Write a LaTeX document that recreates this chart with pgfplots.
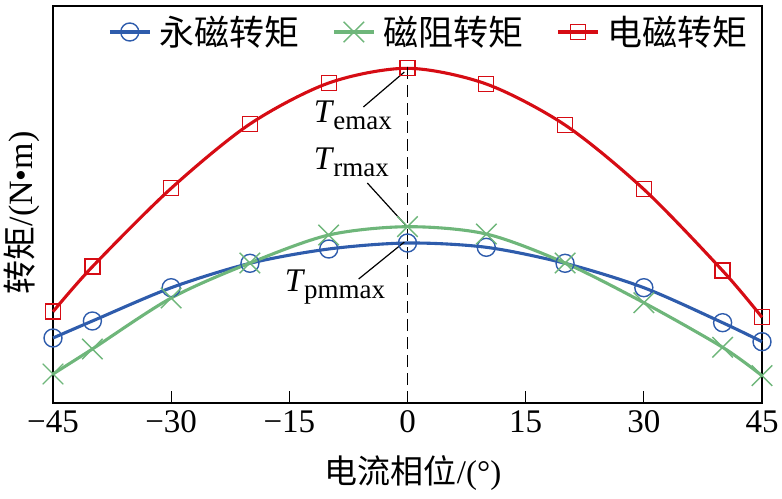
\documentclass[border=0pt]{standalone}
\usepackage{fontspec}
\setmainfont{Liberation Serif}
\newfontfamily\cjk{Noto Sans CJK SC}
\usepackage{pgfplots}
\pgfplotsset{compat=1.18}
\definecolor{cblue}{RGB}{46,92,172}
\definecolor{cgreen}{RGB}{110,182,122}
\definecolor{cred}{RGB}{214,12,20}
\newcommand{\Tl}[1]{{\fontsize{33bp}{36bp}\selectfont\itshape T}\kern1bp\raisebox{-7bp}{\fontsize{27bp}{30bp}\selectfont #1}}
\begin{document}
\begin{tikzpicture}
\path[use as bounding box] (-53bp,-96bp) rectangle (729bp,403bp);
\begin{axis}[
  at={(0bp,0bp)}, anchor=south west,
  scale only axis, width=709bp, height=397bp,
  xmin=-45, xmax=45, ymin=0, ymax=397,
  clip=false,
  xtick={-45,-30,-15,0,15,30,45},
  xticklabels={−45,−30,−15,0,15,30,45},
  ytick=\empty,
  xtick pos=bottom,
  tick align=inside,
  major tick length=12bp,
  axis line style={line width=1.3bp, black},
  every tick/.style={line width=1.3bp, black},
  xticklabel style={font=\fontsize{33bp}{36bp}\selectfont, yshift=-4bp},
  xlabel={{\cjk 电流相位}/(°)},
  xlabel style={at={(axis description cs:0.508,-0.1763)}, anchor=center, font=\fontsize{33bp}{38bp}\selectfont},
  ylabel={{\cjk 转矩}/(N•m)},
  ylabel style={at={(axis description cs:-0.0437,0.479)}, anchor=center, font=\fontsize{34bp}{38bp}\selectfont},
  legend columns=3,
  legend style={at={(axis description cs:0.0776,0.9345)}, anchor=west, draw=none, fill=none, inner sep=0pt,
    font=\fontsize{35bp}{40bp}\selectfont\cjk,
    /tikz/every odd column/.append style={column sep=8bp},
    /tikz/every even column/.append style={column sep=33bp},
    nodes={inner sep=0pt}},
  legend image code/.code={\draw[mark repeat=2,mark phase=2,#1] plot coordinates {(0bp,0bp)(20bp,0bp)(40bp,0bp)};},
]
\addplot[cblue, line width=3.1bp, smooth, mark=o, mark size=9bp, mark options={line width=1.4bp, solid}] coordinates {
(-45,65) (-40,82) (-30,115.3) (-20,139.7) (-10,154) (0,160) (10,155.7) (20,139.7) (30,115.3) (40,80.3) (45,61.3)};
\addlegendentry{永磁转矩}
\addplot[cgreen, line width=3.1bp, smooth, mark=x, mark size=14.5bp, mark options={line width=1.4bp, solid}] coordinates {
(-45,29) (-40,54) (-30,105) (-20,140) (-10,168) (0,176.3) (10,169) (20,140) (30,100.3) (40,55.7) (45,27.3)};
\addlegendentry{磁阻转矩}
\addplot[cred, line width=3.1bp, smooth, mark=square, mark size=7.5bp, mark options={line width=1.4bp, solid}] coordinates {
(-45,91.3) (-40,136.3) (-30,214.7) (-20,279) (-10,320) (0,334.7) (10,319) (20,278) (30,213.7) (40,132.3) (45,85.7)};
\addlegendentry{电磁转矩}
\addplot[black, line width=1.6bp, dash pattern=on 12bp off 6bp, forget plot] coordinates {(0,0) (0,343)};
\node[anchor=base west, inner sep=0pt] at (axis cs:-11.9,280) {\Tl{emax}};
\node[anchor=base west, inner sep=0pt] at (axis cs:-11.9,233) {\Tl{rmax}};
\node[anchor=base west, inner sep=0pt] at (axis cs:-15.6,111) {\Tl{pmmax}};
\draw[line width=1.2bp] (axis cs:-5.6,296) -- (axis cs:-0.4,331);
\draw[line width=1.2bp] (axis cs:-5.1,220) -- (axis cs:-0.25,178);
\draw[line width=1.2bp] (axis cs:-6.2,124) -- (axis cs:-0.4,161);
\end{axis}
\end{tikzpicture}
\end{document}
